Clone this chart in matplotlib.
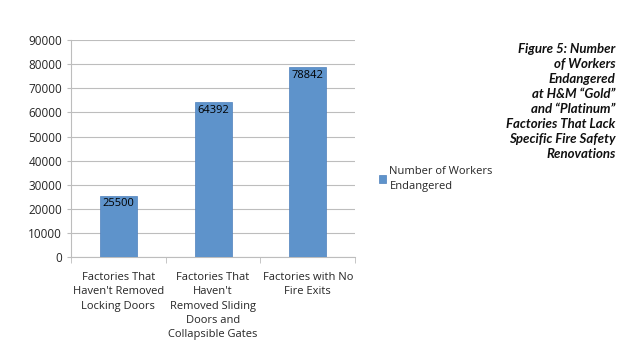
import matplotlib
matplotlib.use('Agg')
import matplotlib.pyplot as plt
from matplotlib.ticker import MultipleLocator, FixedLocator

#************************DATA************************
categories = [
	"Factories That\nHaven't Removed\nLocking Doors",
	"Factories That\nHaven't\nRemoved Sliding\nDoors and\nCollapsible Gates",
	"Factories with No\nFire Exits",
]
workers = [25500, 64392, 78842]
seriesName = 'Number of Workers\nEndangered'
titleText = ('Figure 5: Number\nof Workers\nEndangered\nat H&M \u201cGold\u201d\n'
	'and \u201cPlatinum\u201d\nFactories That Lack\nSpecific Fire Safety\nRenovations')

#************************STYLE************************
barColor = '#5E93CB'
gridColor = '#BDBDBD'
textColor = '#262626'
plt.rcParams['font.family'] = ['Open Sans', 'DejaVu Sans']

fig = plt.figure(figsize=(6.4, 3.55), dpi=100)
ax = fig.add_axes([0.111, 0.276, 0.444, 0.611])

xPos = range(len(workers))
bars = ax.bar(xPos, workers, width=0.39, color=barColor, edgecolor='#4F81BD', linewidth=0.5, label=seriesName, zorder=3)
for x, v in zip(xPos, workers):
	ax.text(x, v - 1200, str(v), ha='center', va='top', fontsize=8, color='black', zorder=4)

ax.set_ylim(0, 90000)
ax.set_xlim(-0.5, len(workers) - 0.5)
ax.yaxis.set_major_locator(MultipleLocator(10000))
ax.grid(True, axis='y', color=gridColor, linewidth=0.8, zorder=0)
ax.set_axisbelow(True)

ax.set_xticks(list(xPos))
ax.set_xticklabels(categories, fontsize=8, color=textColor, linespacing=1.4)
ax.xaxis.set_minor_locator(FixedLocator([-0.5, 0.5, 1.5, 2.5]))
ax.tick_params(axis='x', which='major', length=0, pad=11)
ax.tick_params(axis='x', which='minor', length=4, color=gridColor, direction='out')
ax.tick_params(axis='y', labelsize=8.5, labelcolor=textColor, length=3, color=gridColor)

for side in ['top', 'right']:
	ax.spines[side].set_visible(False)
ax.spines['left'].set_color(gridColor)
ax.spines['bottom'].set_color(gridColor)

leg = ax.legend(loc='center left', bbox_to_anchor=(1.05, 0.36), frameon=False, fontsize=8,
	handlelength=0.6, handleheight=0.6, handletextpad=0.3, labelcolor=textColor)
for t in leg.get_texts():
	t.set_linespacing(1.4)

fig.text(0.962, 0.88, titleText, ha='right', va='top', fontsize=9.5, style='italic',
	fontweight='bold', family=['Lato', 'DejaVu Sans'], linespacing=1.3, color='#111111')

fig.savefig('out.png', dpi=100)
